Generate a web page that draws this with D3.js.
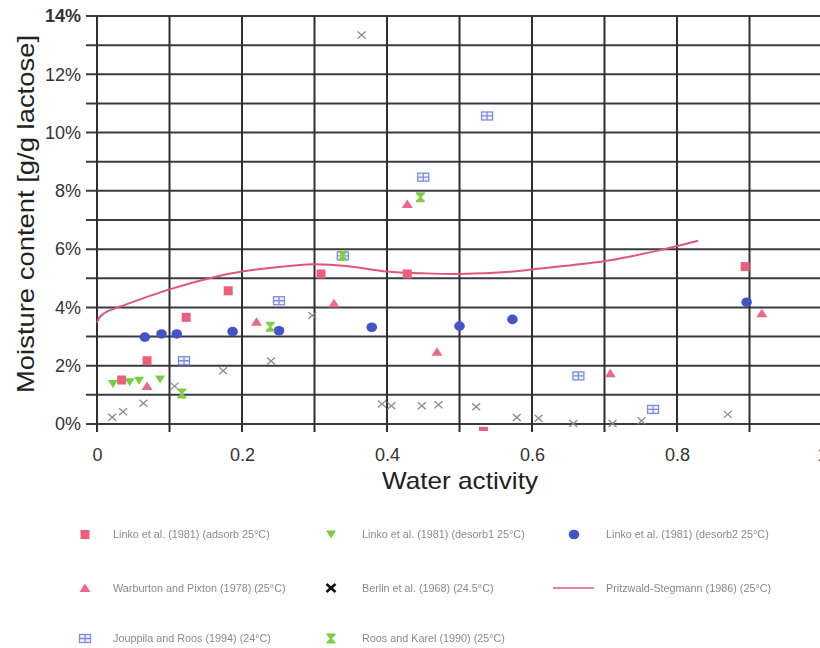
<!DOCTYPE html>
<html>
<head>
<meta charset="utf-8">
<script src="https://cdn.jsdelivr.net/npm/d3@7"></script>
<style>
  body { margin: 0; background: #fff; }
  svg { display: block; }
</style>
</head>
<body>
<svg id="chart" width="820" height="648"></svg>
<script>
// Sorption isotherm of lactose: moisture content (% g/g) against water activity

const linkoAdsorbAw = [0.034, 0.069, 0.123, 0.181, 0.309, 0.428, 0.533, 0.894];
const linkoAdsorbMc = [1.51, 2.17, 3.66, 4.57, 5.15, 5.15, -0.25, 5.40];

const linkoDesorb1Aw = [0.022, 0.045, 0.058, 0.087];
const linkoDesorb1Mc = [1.37, 1.43, 1.48, 1.53];

const linkoDesorb2Aw = [0.066, 0.089, 0.110, 0.187, 0.251, 0.379, 0.500, 0.573, 0.896];
const linkoDesorb2Mc = [2.98, 3.09, 3.09, 3.17, 3.20, 3.32, 3.36, 3.59, 4.18];

const warburtonAw = [0.069, 0.220, 0.327, 0.428, 0.469, 0.708, 0.917];
const warburtonMc = [1.30, 3.51, 4.14, 7.55, 2.48, 1.74, 3.80];

const berlinAw = [0.021, 0.036, 0.064, 0.107, 0.174, 0.240, 0.297, 0.365, 0.393, 0.406,
                  0.448, 0.471, 0.523, 0.579, 0.609, 0.657, 0.711, 0.751, 0.870];
const berlinMc = [0.23, 0.42, 0.71, 1.30, 1.83, 2.16, 3.72, 13.35, 0.69, 0.63,
                  0.63, 0.66, 0.59, 0.22, 0.20, 0.02, 0.02, 0.11, 0.33];

const pritzwaldAw = [0, 0.004, 0.013, 0.032, 0.1, 0.165, 0.2, 0.28, 0.3, 0.344,
                     0.4, 0.45, 0.5, 0.574, 0.602, 0.701, 0.777, 0.829];
const pritzwaldMc = [3.48, 3.68, 3.85, 4.03, 4.62, 5.06, 5.23, 5.46, 5.48, 5.42,
                     5.23, 5.17, 5.15, 5.23, 5.31, 5.59, 5.97, 6.29];

const jouppilaAw = [0.120, 0.251, 0.339, 0.450, 0.538, 0.664, 0.767];
const jouppilaMc = [2.17, 4.23, 5.77, 8.47, 10.57, 1.65, 0.50];

const roosAw = [0.117, 0.239, 0.339, 0.446];
const roosMc = [1.05, 3.34, 5.77, 7.78];

const xTickValues = [0, 0.2, 0.4, 0.6, 0.8, 1];
const yTickValues = [0, 2, 4, 6, 8, 10, 12, 14];
const xTitle = "Water activity";
const yTitle = "Moisture content [g/g lactose]";

const seriesNames = [
  "Linko et al. (1981) (adsorb 25°C)",
  "Linko et al. (1981) (desorb1 25°C)",
  "Linko et al. (1981) (desorb2 25°C)",
  "Warburton and Pixton (1978) (25°C)",
  "Berlin et al. (1968) (24.5°C)",
  "Pritzwald-Stegmann (1986) (25°C)",
  "Jouppila and Roos (1994) (24°C)",
  "Roos and Karel (1990) (25°C)"
];

// ---------------------------------------------------------------
const svg = d3.select("#chart");
const FONT = "Arial, 'Liberation Sans', Helvetica, sans-serif";

const x = d3.scaleLinear().domain([0, 1]).range([97, 822]);
const y = d3.scaleLinear().domain([0, 14]).range([424, 16]);

const zip = (a, b) => a.map((v, i) => [v, b[i]]);

// Marker drawers: each appends a shape centred at (0,0) to a group
const markers = {
  square: g => g.append("rect").attr("x", -4.5).attr("y", -4.5).attr("width", 9).attr("height", 9)
                .attr("fill", "#ea5f7e"),
  triDown: g => g.append("path").attr("d", "M-5,-4L5,-4L0,4Z").attr("fill", "#74cf3f"),
  circle: g => g.append("ellipse").attr("rx", 5.3).attr("ry", 4.8).attr("fill", "#4353c8"),
  triUp: g => g.append("path").attr("d", "M-5.5,4L5.5,4L0,-4.5Z").attr("fill", "#ea6a8a"),
  cross: g => g.append("path").attr("d", "M-4,-3.5L4,3.5M-4,3.5L4,-3.5")
                .attr("stroke", "#8a8a8e").attr("stroke-width", 1.3).attr("fill", "none"),
  grid: g => {
    g.append("rect").attr("x", -5.5).attr("y", -4).attr("width", 11).attr("height", 8)
      .attr("fill", "#f1f2ff").attr("stroke", "#7d8ddc").attr("stroke-width", 1.3);
    g.append("path").attr("d", "M-5.5,0L5.5,0M0,-4L0,4")
      .attr("stroke", "#7d8ddc").attr("stroke-width", 1.3);
  },
  hourglass: g => g.append("path")
                .attr("d", "M-4.5,-5L4.5,-5L4.5,-3.5L0.8,0L4.5,3.5L4.5,5L-4.5,5L-4.5,3.5L-0.8,0L-4.5,-3.5Z")
                .attr("fill", "#7ccf45")
};

// ---- grid ----
const grid = svg.append("g");
d3.range(0, 15, 1).forEach(v => {
  grid.append("line")
    .attr("x1", 86).attr("x2", 820)
    .attr("y1", y(v)).attr("y2", y(v))
    .attr("stroke", "#3a3a46").attr("stroke-width", 2);
});
d3.range(0, 11, 1).forEach(i => {
  const v = i / 10;
  grid.append("line")
    .attr("x1", x(v)).attr("x2", x(v))
    .attr("y1", y(14)).attr("y2", y(0) + 8)
    .attr("stroke", "#2e2e34").attr("stroke-width", 2);
});

// ---- axes labels ----
const xAxis = d3.axisBottom(x).tickValues(xTickValues).tickSize(0).tickPadding(0)
  .tickFormat(d => d === 0 ? "0" : d3.format("")(d));
const gx = svg.append("g").attr("transform", `translate(0, ${y(0) + 24})`).call(xAxis);
gx.select(".domain").remove();
gx.selectAll("text").attr("font-family", FONT).attr("font-size", 18).attr("fill", "#333")
  .attr("dy", "0.71em");

const yAxis = d3.axisLeft(y).tickValues(yTickValues).tickSize(0).tickPadding(0)
  .tickFormat(d => d + "%");
const gy = svg.append("g").attr("transform", "translate(81, 0)").call(yAxis);
gy.select(".domain").remove();
gy.selectAll("text").attr("font-family", FONT).attr("font-size", 18).attr("fill", "#333")
  .attr("font-weight", d => d === 14 ? "bold" : "normal");

svg.append("text")
  .attr("x", 460).attr("y", 489)
  .attr("text-anchor", "middle")
  .attr("font-family", FONT).attr("font-size", 24).attr("fill", "#222")
  .attr("textLength", 156).attr("lengthAdjust", "spacingAndGlyphs")
  .text(xTitle);

svg.append("text")
  .attr("transform", `translate(34, 214) rotate(-90)`)
  .attr("text-anchor", "middle")
  .attr("font-family", FONT).attr("font-size", 24).attr("fill", "#222")
  .attr("textLength", 358).attr("lengthAdjust", "spacingAndGlyphs")
  .text(yTitle);

// ---- data ----
svg.append("clipPath").attr("id", "plotClip")
  .append("rect").attr("x", 80).attr("y", 10).attr("width", 740).attr("height", 421);

const plot = svg.append("g").attr("clip-path", "url(#plotClip)");

const line = d3.line().x(d => x(d[0])).y(d => y(d[1])).curve(d3.curveCatmullRom.alpha(0.5));
plot.append("path")
  .datum(zip(pritzwaldAw, pritzwaldMc))
  .attr("d", line)
  .attr("fill", "none").attr("stroke", "#df5679").attr("stroke-width", 2);

const pointSeries = [
  { aw: jouppilaAw, mc: jouppilaMc, marker: "grid" },
  { aw: berlinAw, mc: berlinMc, marker: "cross" },
  { aw: linkoAdsorbAw, mc: linkoAdsorbMc, marker: "square" },
  { aw: linkoDesorb1Aw, mc: linkoDesorb1Mc, marker: "triDown" },
  { aw: linkoDesorb2Aw, mc: linkoDesorb2Mc, marker: "circle" },
  { aw: warburtonAw, mc: warburtonMc, marker: "triUp" },
  { aw: roosAw, mc: roosMc, marker: "hourglass" }
];

pointSeries.forEach(s => {
  plot.append("g").selectAll("g")
    .data(zip(s.aw, s.mc))
    .join("g")
    .attr("transform", d => `translate(${x(d[0])}, ${y(d[1])})`)
    .each(function () { markers[s.marker](d3.select(this)); });
});

// ---- legend ----
const legendItems = [
  { name: seriesNames[0], marker: "square" },
  { name: seriesNames[1], marker: "triDown" },
  { name: seriesNames[2], marker: "circle" },
  { name: seriesNames[3], marker: "triUp" },
  { name: seriesNames[4], marker: "legendX" },
  { name: seriesNames[5], marker: "line" },
  { name: seriesNames[6], marker: "grid" },
  { name: seriesNames[7], marker: "hourglass" }
];
const colX = [85, 331, 574];
const colText = [113, 362, 606];
const rowY = [534.5, 588, 638.5];

const defs = svg.append("defs");
defs.append("filter").attr("id", "soft")
  .append("feGaussianBlur").attr("stdDeviation", 0.45);

const legend = svg.append("g");
legendItems.forEach((it, i) => {
  const c = i % 3, r = Math.floor(i / 3);
  const g = legend.append("g").attr("transform", `translate(${colX[c]}, ${rowY[r]})`);
  if (it.marker === "legendX") {
    g.append("path").attr("d", "M-4.5,-4L4.5,4M-4.5,4L4.5,-4")
      .attr("stroke", "#111").attr("stroke-width", 2.6).attr("fill", "none");
  } else if (it.marker === "line") {
    g.append("line").attr("x1", -21).attr("x2", 20).attr("y1", 0).attr("y2", 0)
      .attr("stroke", "#e2587a").attr("stroke-width", 1.6);
  } else {
    markers[it.marker](g);
  }
  legend.append("text")
    .attr("x", colText[c]).attr("y", rowY[r])
    .attr("dy", "0.35em")
    .attr("font-family", FONT).attr("font-size", 10.8).attr("fill", "#8a8a8a")
    .attr("filter", "url(#soft)")
    .text(it.name);
});
</script>
</body>
</html>
